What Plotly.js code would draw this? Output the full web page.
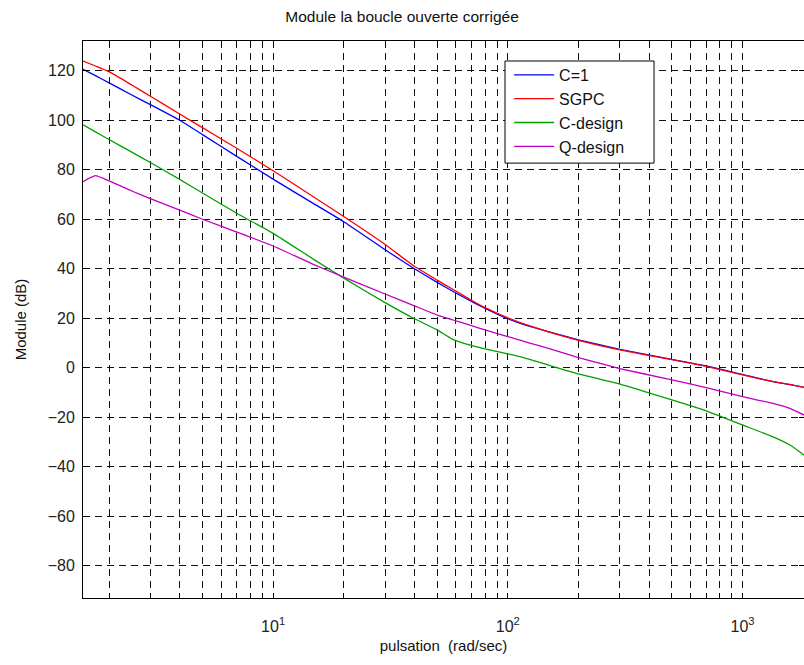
<!DOCTYPE html>
<html><head><meta charset="utf-8">
<script src="https://cdn.plot.ly/plotly-3.0.1.min.js"></script>
<style>html,body{margin:0;padding:0;background:#fff}</style>
</head><body><div id="chart" style="width:804px;height:665px"></div>
<script>
const freq = [1.55, 1.75, 2, 2.5, 3, 4, 5, 7, 10, 15, 20, 30, 40, 50, 58, 70, 80, 100, 125, 150, 200, 300, 500, 700, 1000, 1350, 1600, 1830];
const cOne = [120.6, 118.0, 115.1, 110.2, 106.3, 100.0, 94.2, 85.4, 76.2, 66.1, 59.0, 47.7, 40.0, 34.5, 31.0, 26.8, 24.0, 19.8, 16.6, 14.5, 11.3, 7.4, 3.4, 0.8, -2.7, -5.6, -6.8, -7.9];
const sgpc = [123.9, 121.9, 119.6, 114.2, 109.7, 102.5, 97.0, 88.7, 79.6, 68.8, 61.1, 49.8, 41.0, 35.4, 31.8, 27.3, 24.3, 20.2, 16.8, 14.4, 11.1, 7.2, 3.3, 0.6, -2.9, -5.6, -6.8, -7.9];
const cDesign = [98.1, 95.3, 92.2, 87.1, 82.9, 76.1, 70.6, 62.4, 54.3, 43.6, 36.2, 26.3, 19.8, 15.3, 11.6, 9.0, 7.6, 5.6, 3.3, 1.0, -2.5, -6.6, -13.0, -17.4, -23.1, -27.9, -31.3, -35.3];
const qDesign = [75.2, 77.6, 75.5, 71.4, 68.3, 63.7, 60.0, 54.8, 49.2, 41.6, 36.6, 29.8, 25.0, 21.3, 19.4, 17.0, 15.3, 12.6, 9.9, 7.7, 4.1, -0.3, -4.9, -8.0, -11.7, -14.4, -16.5, -19.1];
const seriesNames = ['C=1', 'SGPC', 'C-design', 'Q-design'];
const seriesColors = ['#0000ff', '#ff0000', '#00a000', '#c000c0'];
const xTickVals = [2,3,4,5,6,7,8,9,10,20,30,40,50,60,70,80,90,100,200,300,400,500,600,700,800,900,1000];
const xTickText = xTickVals.map(v => v === 10 ? '10<sup>1</sup>' : v === 100 ? '10<sup>2</sup>' : v === 1000 ? '10<sup>3</sup>' : '');
const yTickVals = [-80,-60,-40,-20,0,20,40,60,80,100,120];

const allY = [cOne, sgpc, cDesign, qDesign];
const traces = allY.map((ys, i) => ({
  x: freq, y: ys, type: 'scatter', mode: 'lines', name: seriesNames[i],
  line: {color: seriesColors[i], width: 1.3, shape: 'spline', smoothing: 0.4}
}));

const fam = 'Liberation Sans, Arial, sans-serif';
const layout = {
  width: 804, height: 665,
  margin: {l: 83, r: 0, t: 41, b: 67, pad: 0},
  paper_bgcolor: '#fff', plot_bgcolor: '#fff',
  font: {family: fam, size: 16, color: '#222'},
  showlegend: true,
  title: {text: 'Module la boucle ouverte corrigée', x: 0.5, xref: 'container', y: 0.975, yref: 'container', yanchor: 'middle', font: {family: fam, size: 15.5, color: '#111'}},
  xaxis: {
    type: 'log', range: [0.19, 3.262], autorange: false,
    tickmode: 'array', tickvals: xTickVals, ticktext: xTickText,
    tickfont: {family: fam, size: 16, color: '#222'},
    ticks: 'inside', ticklen: 5, tickcolor: '#000', tickwidth: 1,
    showline: true, linecolor: '#000', linewidth: 1, mirror: 'ticks',
    showgrid: true, gridcolor: '#111', gridwidth: 1, griddash: '7px,5px',
    zeroline: false, ticklabelstandoff: 14,
    title: {text: 'pulsation  (rad/sec)', standoff: 6, font: {family: fam, size: 15, color: '#111'}}
  },
  yaxis: {
    range: [-93, 132], autorange: false,
    tickmode: 'array', tickvals: yTickVals,
    tickfont: {family: fam, size: 16, color: '#222'},
    ticks: 'inside', ticklen: 5, tickcolor: '#000', tickwidth: 1,
    showline: true, linecolor: '#000', linewidth: 1, mirror: 'ticks',
    showgrid: true, gridcolor: '#111', gridwidth: 1, griddash: '7px,5px',
    zeroline: false, ticklabelstandoff: 4,
    title: {text: 'Module (dB)', standoff: 17, font: {family: fam, size: 15, color: '#111'}}
  },
  shapes: [{
    type: 'rect', xref: 'paper', yref: 'paper', layer: 'above',
    x0: 0.5853, x1: 0.7920, y0: 0.7808, y1: 0.9641,
    fillcolor: '#fff', line: {color: '#000', width: 1}
  }],
  legend: {
    x: 0.591, y: 0.9695, xanchor: 'left', yanchor: 'top',
    bgcolor: 'rgba(0,0,0,0)', borderwidth: 0,
    font: {family: fam, size: 16, color: '#111'},
    tracegroupgap: 0, itemwidth: 40
  }
};
Plotly.newPlot('chart', traces, layout, {displayModeBar: false, staticPlot: true});
</script></body></html>
